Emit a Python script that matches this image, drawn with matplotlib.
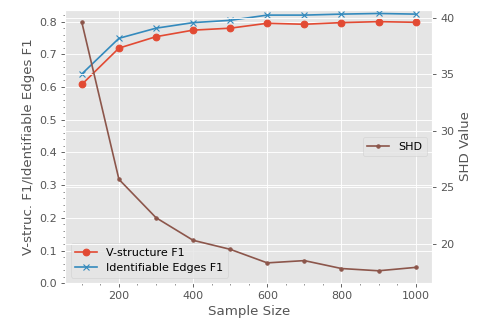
import matplotlib
matplotlib.use("Agg")
import matplotlib.pyplot as plt

plt.style.use("ggplot")

# Data
sample_sizes = [100, 200, 300, 400, 500, 600, 700, 800, 900, 1000]
vstruct_f1 = [0.608, 0.719, 0.754, 0.774, 0.780, 0.795, 0.792, 0.797, 0.800, 0.798]
ident_f1 = [0.640, 0.749, 0.780, 0.797, 0.804, 0.820, 0.820, 0.823, 0.825, 0.823]
shd = [39.6, 25.7, 22.3, 20.3, 19.5, 18.3, 18.5, 17.8, 17.6, 17.9]

fig, ax1 = plt.subplots(figsize=(5.9875, 4), dpi=80)
fig.subplots_adjust(left=0.136, right=0.9025, top=0.969, bottom=0.115)

ax1.plot(sample_sizes, vstruct_f1, marker="o", color="#E24A33", label="V-structure F1")
ax1.plot(sample_sizes, ident_f1, marker="x", color="#348ABD", label="Identifiable Edges F1")
ax1.set_xlabel("Sample Size")
ax1.set_ylabel("V-struc. F1/Identifiable Edges F1")
ax1.set_ylim(bottom=0)
ax1.minorticks_on()
ax1.legend(loc="lower left")

# Secondary axis for SHD
ax2 = ax1.twinx()
ax2.plot(sample_sizes, shd, marker=".", color="#8c564b", label="SHD")
ax2.set_ylabel("SHD Value")
ax2.legend(loc="center right")

plt.savefig("out.png")
